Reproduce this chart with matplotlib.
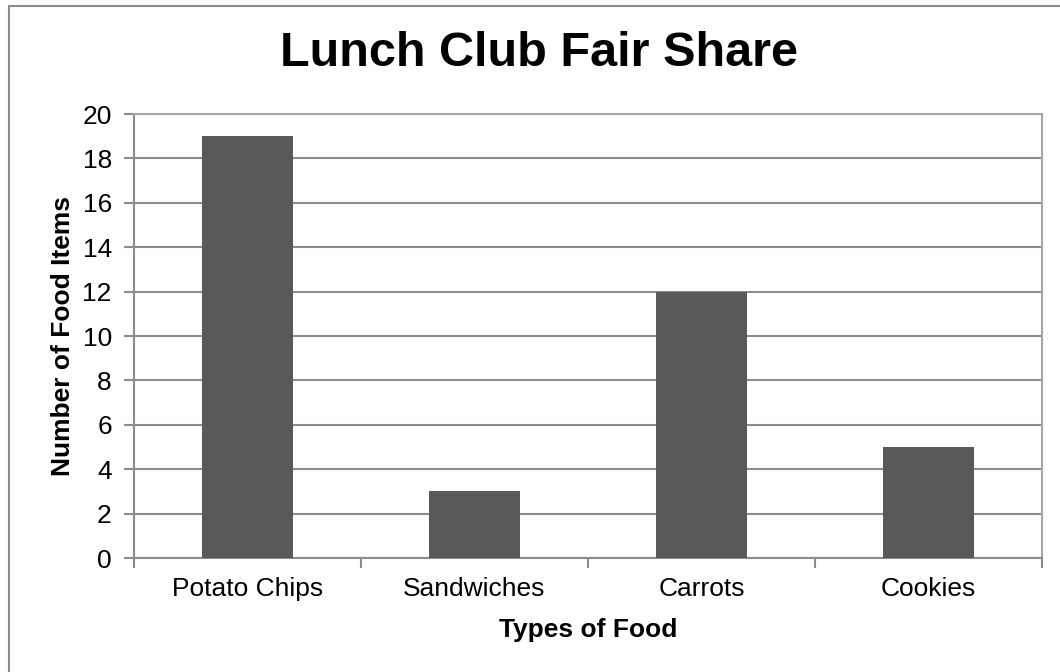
import matplotlib
matplotlib.use('Agg')
import matplotlib.pyplot as plt
from matplotlib.patches import Rectangle

categories = ['Potato Chips', 'Sandwiches', 'Carrots', 'Cookies']
counts = [19, 3, 12, 5]
y_ticks = [0, 2, 4, 6, 8, 10, 12, 14, 16, 18, 20]

plt.rcParams['font.family'] = ['Liberation Sans', 'DejaVu Sans']

fig = plt.figure(figsize=(10.6, 6.72), dpi=100)
ax = fig.add_axes([134 / 1060, 1 - 558 / 672, 908 / 1060, 444 / 672])

# outer chart border like the Excel chart area
fig.patches.append(Rectangle((9 / 1060, -0.05), 1.1, 1 - 6 / 672 + 0.05,
                             transform=fig.transFigure, fill=False,
                             edgecolor='#8c8c8c', linewidth=1.5))

x = range(len(categories))
ax.bar(x, counts, width=0.4, color='#595959', zorder=3)

ax.set_xlim(-0.5, len(categories) - 0.5)
ax.set_ylim(0, 20)
ax.set_yticks(y_ticks)
ax.tick_params(axis='y', labelsize=19, length=7, color='#8c8c8c', width=1.5, pad=9)
ax.set_xticks(list(x))
ax.set_xticklabels(categories, fontsize=19)
ax.tick_params(axis='x', length=0, pad=14)
# category separator ticks
ax.set_xticks([i - 0.5 for i in range(len(categories) + 1)], minor=True)
ax.tick_params(axis='x', which='minor', length=7, color='#8c8c8c', width=1.5)

ax.grid(axis='y', color='#8c8c8c', linewidth=1.5, zorder=0)
for side in ['left', 'bottom', 'right', 'top']:
    ax.spines[side].set_color('#a6a6a6')
    ax.spines[side].set_linewidth(1.5)
ax.spines['left'].set_color('#8c8c8c')
ax.spines['bottom'].set_color('#8c8c8c')

ax.set_xlabel('Types of Food', fontsize=19, fontweight='bold', labelpad=12)
ax.set_ylabel('Number of Food Items', fontsize=19, fontweight='bold', labelpad=5)
fig.text(539 / 1060, 1 - 54 / 672, 'Lunch Club Fair Share', fontsize=35,
         fontweight='bold', ha='center', va='center')

fig.savefig('out.png', dpi=100)
plt.close(fig)
